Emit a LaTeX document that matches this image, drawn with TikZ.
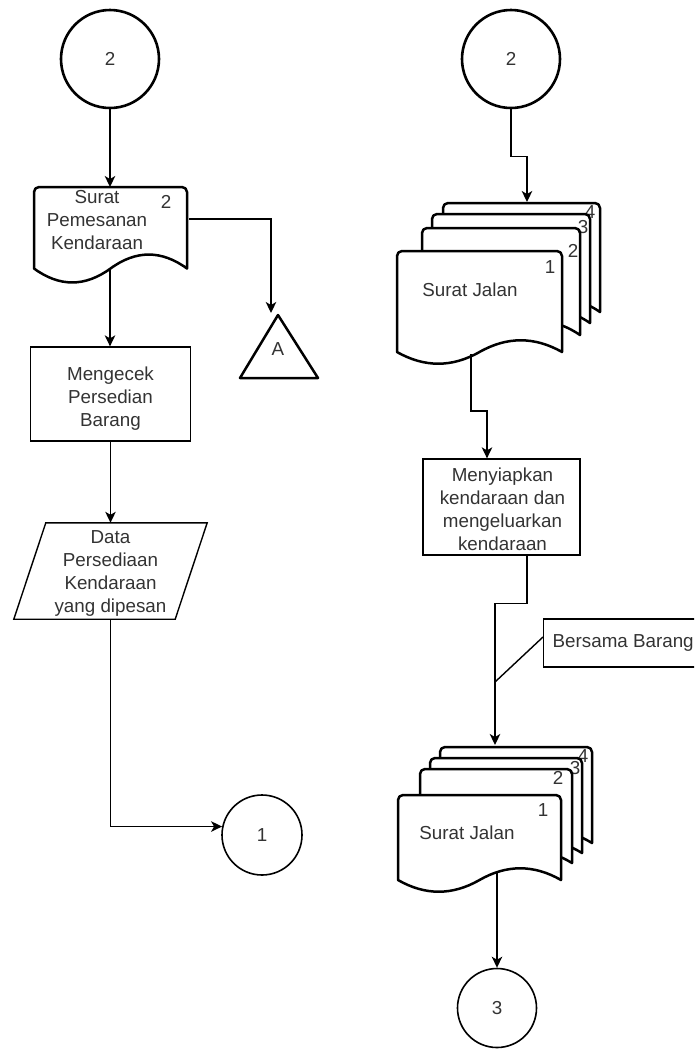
\documentclass[tikz,border=0pt]{standalone}
\usepackage{fontspec}
\setmainfont{Liberation Sans}
\usetikzlibrary{arrows.meta}
% document shape: x0, y0, width, height, wave size
\newcommand\docshape[5]{%
  \draw[docline] (#1,{#2+#4-#5/2}) [rounded corners=5pt] -- (#1,#2) -- ({#1+#3},#2) [sharp corners]
    -- ({#1+#3},{#2+#4-#5/2})
    .. controls ({#1+#3-#3/6},{#2+#4-1.1*#5}) and ({#1+#3/2+#3/6},{#2+#4-1.1*#5}) .. ({#1+#3/2},{#2+#4-#5/2})
    .. controls ({#1+#3/2-#3/6},{#2+#4+0.1*#5}) and ({#1+#3/6},{#2+#4+0.1*#5}) .. (#1,{#2+#4-#5/2}) -- cycle;}
\begin{document}
\begin{tikzpicture}[x=1pt,y=-1pt,
  every node/.style={font=\fontsize{18.8}{23}\selectfont, text=black!80, inner sep=0pt},
  txt/.style={align=center},
  thickcirc/.style={circle, draw=black, line width=2.6pt, minimum size=98pt},
  thincirc/.style={circle, draw=black, line width=1.6pt, minimum size=79pt},
  docline/.style={draw=black, fill=white, line width=2.5pt, line join=round},
  procbox/.style={draw=black, line width=1.3pt, align=center},
  conn/.style={draw=black, line width=1.4pt, -{Stealth[length=11pt,width=10.5pt,inset=3pt]}},
  plain/.style={draw=black, line width=1.4pt}]
\useasboundingbox (0,0) rectangle (694,1050);
\clip (0,0) rectangle (694,1050);

% ---------- left column ----------
\node[thickcirc] (c2L) at (110,59) {2};
\docshape{34}{187}{153}{97}{31}
\node[txt] (d0) at (97,220) {Surat\\Pemesanan\\Kendaraan};
\node (d0n) at (166,202) {2};
\coordinate (d0top) at (110,187);
\coordinate (d0bot) at (110,268);
\coordinate (d0right) at (189,219);

\draw[line width=2.5pt, line join=round] (278,315) -- (318,378) -- (240,378) -- cycle;
\node (A) at (278,349) {A};
\coordinate (Atop) at (271,313);

\node[procbox, minimum width=160pt, minimum height=94pt] (b1) at (110.5,394) {};
\node[txt] (b1t) at (110.5,399) {Mengecek\\Persedian\\Barang};

\node[txt, minimum width=161pt, minimum height=96pt] (p) at (110.5,571) {};
\node[txt] (pt) at (110.5,573) {Data\\Persediaan\\Kendaraan\\yang dipesan};
\draw[plain] ([xshift=16pt]p.north west) -- ([xshift=16pt]p.north east)
  -- ([xshift=-16pt]p.south east) -- ([xshift=-16pt]p.south west) -- cycle;

\node[thincirc, minimum size=80pt] (c1) at (262,835) {1};

\draw[conn] (c2L) -- (d0top);
\draw[conn] (d0right) -| (Atop);
\draw[conn] (d0bot) -- (d0bot |- b1.north);
\draw[conn] (b1.south) -- (p.north);
\draw[conn] (p.south) |- (c1.168);

% ---------- right column ----------
\node[thickcirc] (c2R) at (511,59) {2};

\docshape{443}{203}{157}{124}{30}
\node (n4) at (590,212) {4};
\docshape{432}{214}{158}{124}{30}
\node (n3) at (583,227) {3};
\docshape{422}{228}{158}{122}{30}
\node (n2) at (573,251) {2};
\docshape{397}{251}{165}{114}{26}
\node (n1) at (550,267) {1};
\node (s1) at (470,290) {Surat Jalan};
\coordinate (s1top) at (527,202);
\coordinate (s1bot) at (471,354);

\node[procbox, minimum width=157pt, minimum height=96pt] (b2) at (501.5,507) {};
\node[txt] (b2t) at (502.5,509.5) {Menyiapkan\\kendaraan dan\\mengeluarkan\\kendaraan};

\node[procbox, anchor=west, minimum height=48pt, inner xsep=9pt] (bb) at (543,643) {Bersama Barang};
\coordinate (ann) at (495,682);
\draw[plain] ([yshift=6pt]bb.west) -- (ann);

\docshape{440}{747}{152}{109}{26}
\node (m4) at (583,756) {4};
\docshape{430}{758}{152}{108}{26}
\node (m3) at (575,768) {3};
\docshape{420}{769}{152}{107}{26}
\node (m2) at (558,778) {2};
\docshape{398}{795}{163}{98}{26}
\node (m1) at (543,810) {1};
\node (s2) at (467,833) {Surat Jalan};
\coordinate (s2top) at (495,745);
\coordinate (s2bot) at (497,873);

\node[thincirc] (c3) at (497,1008) {3};

\draw[conn] (c2R.south) -- ++(0,47) -| (s1top);
\draw[conn] (s1bot) -- ++(0,57) -| ([xshift=-14.5pt]b2.north);
\draw[conn] ([xshift=25.5pt]b2.south) -- ++(0,48) -| (s2top);
\draw[conn] (s2bot) -- (c3.north);
\end{tikzpicture}
\end{document}
